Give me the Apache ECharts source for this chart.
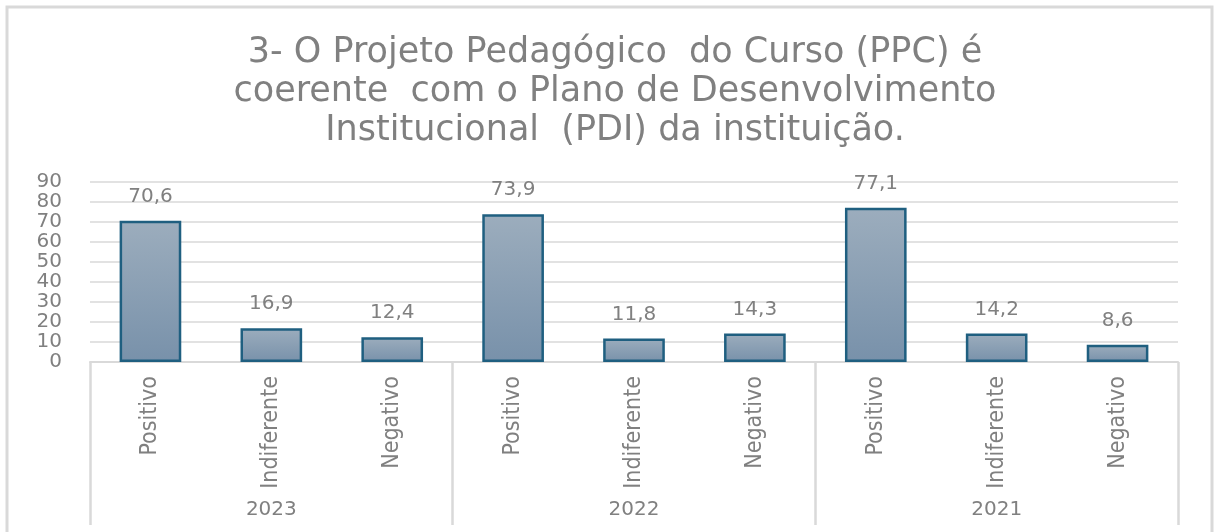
<!DOCTYPE html>
<html>
<head>
<meta charset="utf-8">
<script src="https://cdn.jsdelivr.net/npm/echarts@6/dist/echarts.min.js"></script>
<style>
  html, body { margin: 0; padding: 0; background: #fff; }
  #main { width: 1217px; height: 532px; }
</style>
</head>
<body>
<div id="main"></div>
<script>
// dados
var titulo = '3- O Projeto Pedagógico  do Curso (PPC) é\ncoerente  com o Plano de Desenvolvimento\nInstitucional  (PDI) da instituição.';
var categorias = ['Positivo', 'Indiferente', 'Negativo', 'Positivo', 'Indiferente', 'Negativo', 'Positivo', 'Indiferente', 'Negativo'];
var anos = ['2023', '2022', '2021'];
var valores = [70.6, 16.9, 12.4, 73.9, 11.8, 14.3, 77.1, 14.2, 8.6];

var cinza = '#808080';
var linha = '#d9d9d9';

var chart = echarts.init(document.getElementById('main'));

chart.setOption({
  backgroundColor: '#fff',
  animation: false,
  title: {
    text: titulo,
    left: 610,
    top: 28,
    textAlign: 'center',
    textStyle: {
      fontFamily: 'DejaVu Sans',
      fontSize: 35,
      fontWeight: 'normal',
      lineHeight: 39,
      color: cinza
    }
  },
  graphic: [{
    type: 'rect',
    shape: { x: 7, y: 7, width: 1205, height: 560 },
    style: { fill: 'none', stroke: linha, lineWidth: 3 },
    silent: true
  }],
  grid: { left: 90, right: 39, top: 182, bottom: 170 },
  xAxis: [{
    type: 'category',
    data: categorias,
    position: 'bottom',
    axisLine: { show: true, lineStyle: { color: linha, width: 2 } },
    axisTick: { show: false },
    axisLabel: {
      rotate: 90,
      margin: 14,
      interval: 0,
      fontFamily: 'Liberation Sans Narrow, DejaVu Sans Condensed, sans-serif',
      fontSize: 23,
      color: cinza
    }
  }, {
    type: 'category',
    data: anos,
    position: 'bottom',
    axisLine: { show: false },
    axisTick: {
      show: true,
      interval: 0,
      length: 163,
      lineStyle: { color: linha, width: 2.5 }
    },
    axisLabel: {
      margin: 138,
      fontFamily: 'DejaVu Sans',
      fontSize: 20,
      color: cinza
    }
  }],
  yAxis: {
    type: 'value',
    min: 0,
    max: 90,
    interval: 10,
    axisLine: { show: false },
    axisTick: { show: false },
    axisLabel: {
      margin: 28,
      fontFamily: 'DejaVu Sans',
      fontSize: 20,
      color: cinza
    },
    splitLine: { lineStyle: { color: linha, width: 1.5 } }
  },
  series: [{
    type: 'bar',
    data: valores,
    barWidth: '51%',
    itemStyle: {
      color: new echarts.graphic.LinearGradient(0, 0, 0, 1, [
        { offset: 0, color: '#9cadbd' },
        { offset: 1, color: '#7891aa' }
      ]),
      borderColor: '#1f5f80',
      borderWidth: 2.5
    },
    label: {
      show: true,
      position: 'top',
      distance: 14,
      fontFamily: 'DejaVu Sans',
      fontSize: 20,
      color: cinza,
      formatter: function (p) {
        return String(p.value).replace('.', ',');
      }
    }
  }]
});
</script>
</body>
</html>
